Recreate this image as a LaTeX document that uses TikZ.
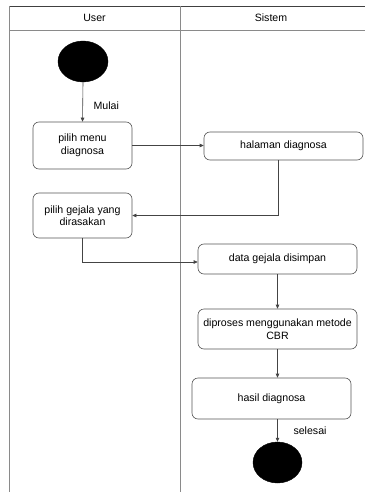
\documentclass[tikz,border=0pt]{standalone}
\usepackage{fontspec}
\setmainfont{Liberation Sans}
\usetikzlibrary{arrows.meta,shapes.geometric}
\definecolor{framecol}{HTML}{8A8A8A}
\definecolor{boxcol}{HTML}{555555}
\definecolor{linecol}{HTML}{444444}
\begin{document}
\begin{tikzpicture}[x=1pt,y=-1pt,
  every node/.style={font=\fontsize{10.6}{12.5}\selectfont},
  actbox/.style={draw=boxcol,line width=0.6pt,rounded corners=6pt,rectangle,align=center,inner sep=1pt},
  dot/.style={ellipse,fill=black,draw=black,inner sep=0pt},
  conn/.style={draw=linecol,line width=0.6pt,-{Triangle[length=4pt,width=3.5pt]}},
  lane/.style={draw=framecol,line width=0.8pt}]
\useasboundingbox (0,0) rectangle (365,492);
% swimlanes
\draw[draw=black!75,line width=0.9pt] (9,6) -- (365,6);
\draw[lane] (9,30) -- (365,30);
\draw[lane] (9,6) -- (9,492);
\draw[lane] (180,6) -- (180,492);
\node (huser) at (94.5,18) {User};
\node (hsis) at (271,18) {Sistem};
% nodes
\node[dot,minimum width=50pt,minimum height=41pt] (start) at (83,61.5) {};
\node[actbox,minimum width=99pt,minimum height=47pt] (menu) at (82.5,145.5) {pilih menu\\diagnosa};
\node[actbox,minimum width=159pt,minimum height=28pt] (hal) at (283.5,146) {halaman diagnosa};
\node[actbox,minimum width=99pt,minimum height=45pt] (gejala) at (82.5,215.5) {pilih gejala yang\\dirasakan};
\node[actbox,minimum width=159pt,minimum height=30pt] (data) at (277.5,259) {data gejala disimpan};
\node[actbox,minimum width=159pt,minimum height=40pt] (proses) at (277.5,329) {diproses menggunakan metode\\CBR};
\node[actbox,minimum width=159pt,minimum height=41pt] (hasil) at (271.5,398.5) {hasil diagnosa};
\node[dot,minimum width=49pt,minimum height=41pt] (end) at (277.5,462.5) {};
% labels
\node[anchor=west] (lmulai) at (90,106) {Mulai};
\node[anchor=west] (lselesai) at (290,431) {selesai};
% connectors
\draw[conn] (start.south) -- (menu.north);
\draw[conn] (menu.east) -- (menu.east -| hal.west);
\draw[conn] ([xshift=-5.5pt]hal.south) |- (gejala.east);
\draw[conn] (gejala.south) |- ([yshift=-3pt]data.west);
\draw[conn] (data.south) -- (proses.north);
\draw[conn] (proses.south) -- (proses.south |- hasil.north);
\draw[conn] (end.north |- hasil.south) -- (end.north);
\end{tikzpicture}
\end{document}
